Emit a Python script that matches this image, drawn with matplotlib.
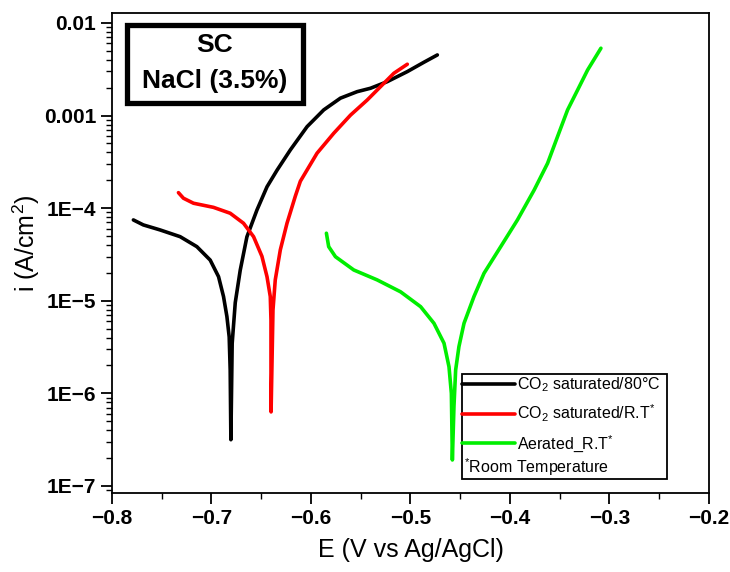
import matplotlib
matplotlib.use("Agg")
import matplotlib.pyplot as plt
import numpy as np
from matplotlib.patches import Rectangle

plt.rcParams['font.family'] = ['Liberation Sans', 'DejaVu Sans']
plt.rcParams['mathtext.fontset'] = 'custom'
plt.rcParams['mathtext.rm'] = 'Liberation Sans'
plt.rcParams['mathtext.it'] = 'Liberation Sans'

# polarization curves, E in V vs Ag/AgCl, i in A/cm2
co2_80_E = [-0.7785, -0.7685, -0.7517, -0.7315, -0.7147, -0.7013, -0.6929, -0.6879, -0.6845,
            -0.6822, -0.6812, -0.6805, -0.6792, -0.6761, -0.6711, -0.6644, -0.6543, -0.6442,
            -0.6341, -0.6207, -0.6039, -0.5872, -0.5704, -0.5536, -0.5402, -0.5234,
            -0.5032, -0.4865, -0.4730]
co2_80_i = [7.46e-5, 6.59e-5, 5.82e-5, 4.92e-5, 3.84e-5, 2.75e-5, 1.82e-5, 1.11e-5, 6.76e-6,
            4.07e-6, 1.78e-6, 3.16e-7, 3.47e-6, 9.55e-6, 2.14e-5, 4.90e-5, 9.55e-5, 1.70e-4,
            2.57e-4, 4.26e-4, 7.59e-4, 1.15e-3, 1.54e-3, 1.81e-3, 1.97e-3, 2.32e-3,
            2.98e-3, 3.76e-3, 4.51e-3]

co2_rt_E = [-0.7332, -0.7282, -0.7181, -0.6980, -0.6812, -0.6678, -0.6577, -0.6493, -0.6442,
            -0.6409, -0.6402, -0.6402, -0.6401, -0.6382, -0.6359, -0.6308, -0.6241, -0.6157,
            -0.6107, -0.5939, -0.5771, -0.5603, -0.5435, -0.5301, -0.5167, -0.5032]
co2_rt_i = [1.47e-4, 1.28e-4, 1.13e-4, 1.02e-4, 8.81e-5, 6.87e-5, 4.92e-5, 3.02e-5, 1.82e-5,
            1.11e-5, 6.17e-6, 1.78e-6, 6.31e-7, 7.94e-6, 1.68e-5, 3.55e-5, 6.87e-5, 1.35e-4,
            1.95e-4, 3.92e-4, 6.44e-4, 1.01e-3, 1.47e-3, 2.05e-3, 2.86e-3, 3.58e-3]

aer_E = [-0.5845, -0.5822, -0.5754, -0.5570, -0.5335, -0.5100, -0.4898, -0.4764, -0.4663,
         -0.4613, -0.4589, -0.4579, -0.4563, -0.4546, -0.4513, -0.4462, -0.4362, -0.4261,
         -0.4093, -0.3925, -0.3757, -0.3622, -0.3522, -0.3421, -0.3320, -0.3220, -0.3086]
aer_i = [5.36e-5, 3.84e-5, 2.99e-5, 2.15e-5, 1.68e-5, 1.25e-5, 8.63e-6, 5.71e-6, 3.48e-6,
         1.94e-6, 1.0e-6, 1.91e-7, 7.24e-7, 1.79e-6, 3.20e-6, 5.71e-6, 1.11e-5, 1.98e-5,
         3.84e-5, 7.46e-5, 1.57e-4, 3.05e-4, 5.92e-4, 1.15e-3, 1.89e-3, 3.10e-3, 5.33e-3]

labels = ['CO$_2$ saturated/80°C', 'CO$_2$ saturated/R.T$^{*}$', 'Aerated_R.T$^{*}$']
colors = ['#000000', '#ff0000', '#00ee00']

x_ticks = [-0.8, -0.7, -0.6, -0.5, -0.4, -0.3, -0.2]
y_ticks = [1e-7, 1e-6, 1e-5, 1e-4, 1e-3, 1e-2]
y_ticklabels = ['1E\u22127', '1E\u22126', '1E\u22125', '1E\u22124', '0.001', '0.01']

fig = plt.figure(figsize=(7.3, 5.72), dpi=100)
ax = fig.add_axes([0.1534, 0.1381, 0.8178, 0.8392])

for E, i, lab, c in zip([co2_80_E, co2_rt_E, aer_E], [co2_80_i, co2_rt_i, aer_i], labels, colors):
    ax.plot(E, i, color=c, lw=2.6, label=lab, solid_capstyle='round', solid_joinstyle='round')

ax.set_yscale('log')
ax.set_xlim(-0.8, -0.2)
ax.set_ylim(8.4e-8, 0.0128)
ax.set_xticks(x_ticks)
ax.set_xticklabels([f'{v:.1f}'.replace('-', '\u2212') for v in x_ticks])
ax.set_xticks(np.arange(-0.75, -0.2, 0.1), minor=True)
ax.set_yticks(y_ticks)
ax.set_yticklabels(y_ticklabels)
ax.tick_params(which='major', direction='out', length=8, width=1.3, labelsize=15)
ax.tick_params(which='minor', direction='out', length=4, width=1.0)
ax.tick_params(axis='y', which='minor', labelleft=False)
for t in ax.get_xticklabels() + ax.get_yticklabels():
    t.set_fontweight('bold')
for s in ax.spines.values():
    s.set_linewidth(1.3)

ax.set_xlabel('E (V vs Ag/AgCl)', fontsize=18)
ax.xaxis.set_label_coords(0.5, -0.093)
ax.set_ylabel('i (A/cm$^2$)', fontsize=18)
ax.yaxis.set_label_coords(-0.118, 0.52)

# title box
ax.add_patch(Rectangle((0.025, 0.8125), 0.295, 0.1625, transform=ax.transAxes,
                       fill=True, fc='white', ec='black', lw=3.8, zorder=5))
ax.text(0.172, 0.933, 'SC', transform=ax.transAxes, ha='center', va='center',
        fontsize=19, fontweight='bold', zorder=6)
ax.text(0.172, 0.858, 'NaCl (3.5%)', transform=ax.transAxes, ha='center', va='center',
        fontsize=19, fontweight='bold', zorder=6)

# legend
leg = ax.legend(loc='upper left', bbox_to_anchor=(0.576, 0.258), frameon=False, fontsize=11.5,
                handlelength=3.3, handletextpad=0.1, labelspacing=0.55, borderaxespad=0)
ax.text(0.589, 0.054, '$^{*}$Room Temperature', transform=ax.transAxes, fontsize=11.5,
        ha='left', va='center')
ax.add_patch(Rectangle((0.586, 0.029), 0.344, 0.219, transform=ax.transAxes,
                       fill=False, ec='black', lw=1.3, zorder=5))

fig.savefig('out.png', dpi=100)
